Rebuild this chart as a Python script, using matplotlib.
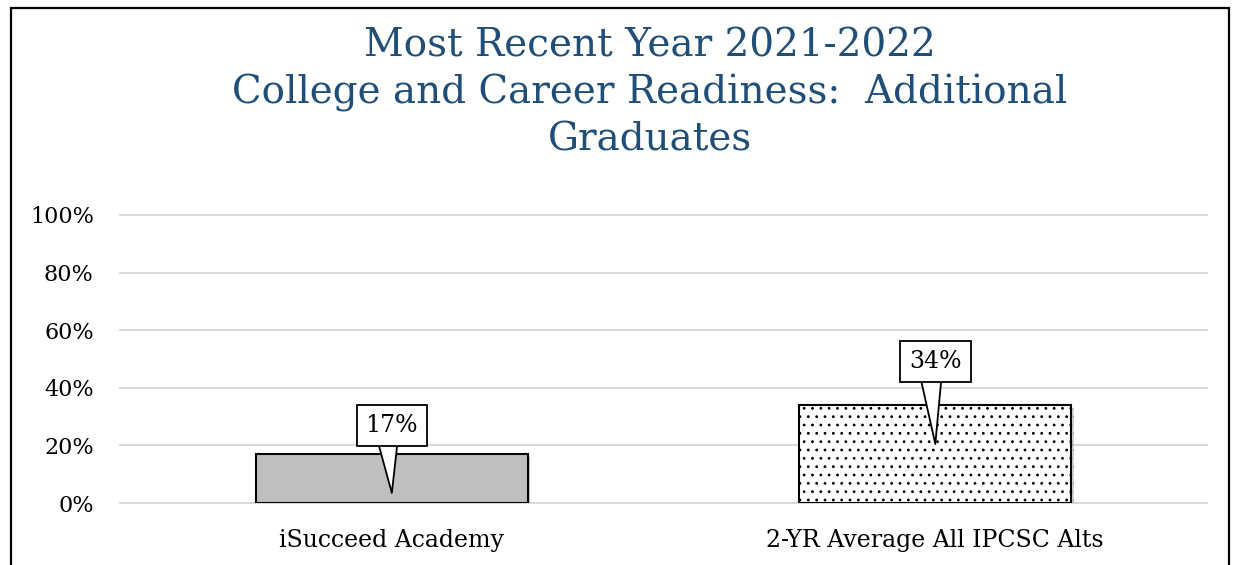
import matplotlib.pyplot as plt
import matplotlib.patheffects as pe
from matplotlib.patches import Rectangle
from matplotlib.ticker import PercentFormatter

# data
categories = ["iSucceed Academy", "2-YR Average All IPCSC Alts"]
values = [17, 34]
bar_colors = ["#BFBFBF", "white"]
hatches = [None, ".."]
yticks = [0, 20, 40, 60, 80, 100]

title_color = "#1F4E79"
serif = ["DejaVu Serif"]
plt.rcParams["hatch.linewidth"] = 0.8

fig = plt.figure(figsize=(12.38, 5.65), dpi=100)
ax = fig.add_axes([0.097, 0.1097, 0.878, 0.5098])

x = range(len(categories))
bars = ax.bar(x, values, width=0.5, color=bar_colors, edgecolor="black",
              linewidth=1.5, zorder=3)
for b, h in zip(bars, hatches):
    if h:
        b.set_hatch(h)
    b.set_path_effects([pe.SimplePatchShadow(offset=(2, -2), alpha=0.25),
                        pe.Normal()])

# callout labels: box above bar, wedge pointing down into the bar
box_off = [10, 15]
tip_off = 13.5
for i, v in enumerate(values):
    ax.annotate(f"{v}%", xy=(i, v - tip_off), xytext=(i, v + box_off[i]),
                ha="center", va="center", fontsize=17, family=serif, zorder=5,
                bbox=dict(boxstyle="square,pad=0.38", fc="white", ec="black", lw=1.3),
                arrowprops=dict(arrowstyle="wedge,tail_width=1.1,shrink_factor=0.5",
                                fc="white", ec="black", lw=1.3, patchA=None,
                                relpos=(0.4, 0.5), shrinkA=0, shrinkB=0))

ax.set_ylim(0, 100)
ax.set_xlim(-0.5, 1.5)
ax.set_yticks(yticks)
ax.yaxis.set_major_formatter(PercentFormatter(decimals=0))
ax.set_xticks(list(x))
ax.set_xticklabels(categories)
ax.tick_params(axis="both", length=0)
ax.tick_params(axis="y", pad=19, labelsize=16)
ax.tick_params(axis="x", pad=19, labelsize=17)
for lab in ax.get_xticklabels() + ax.get_yticklabels():
    lab.set_family(serif)
ax.grid(axis="y", color="#D9D9D9", linewidth=1.5, zorder=0)
for gl in ax.get_ygridlines():
    gl.set_clip_on(False)
for s in ax.spines.values():
    s.set_visible(False)

fig.text(0.525, 0.835,
         "Most Recent Year 2021-2022\nCollege and Career Readiness:  Additional\nGraduates",
         ha="center", va="center", fontsize=28, color=title_color, family=serif,
         linespacing=1.32)

# outer chart border
fig.patches.append(Rectangle((11 / 1238, -0.05), 1218 / 1238, 1.05 - 8 / 565,
                             transform=fig.transFigure, fill=False,
                             ec="black", lw=1.6))

fig.savefig("out.png", dpi=100)
